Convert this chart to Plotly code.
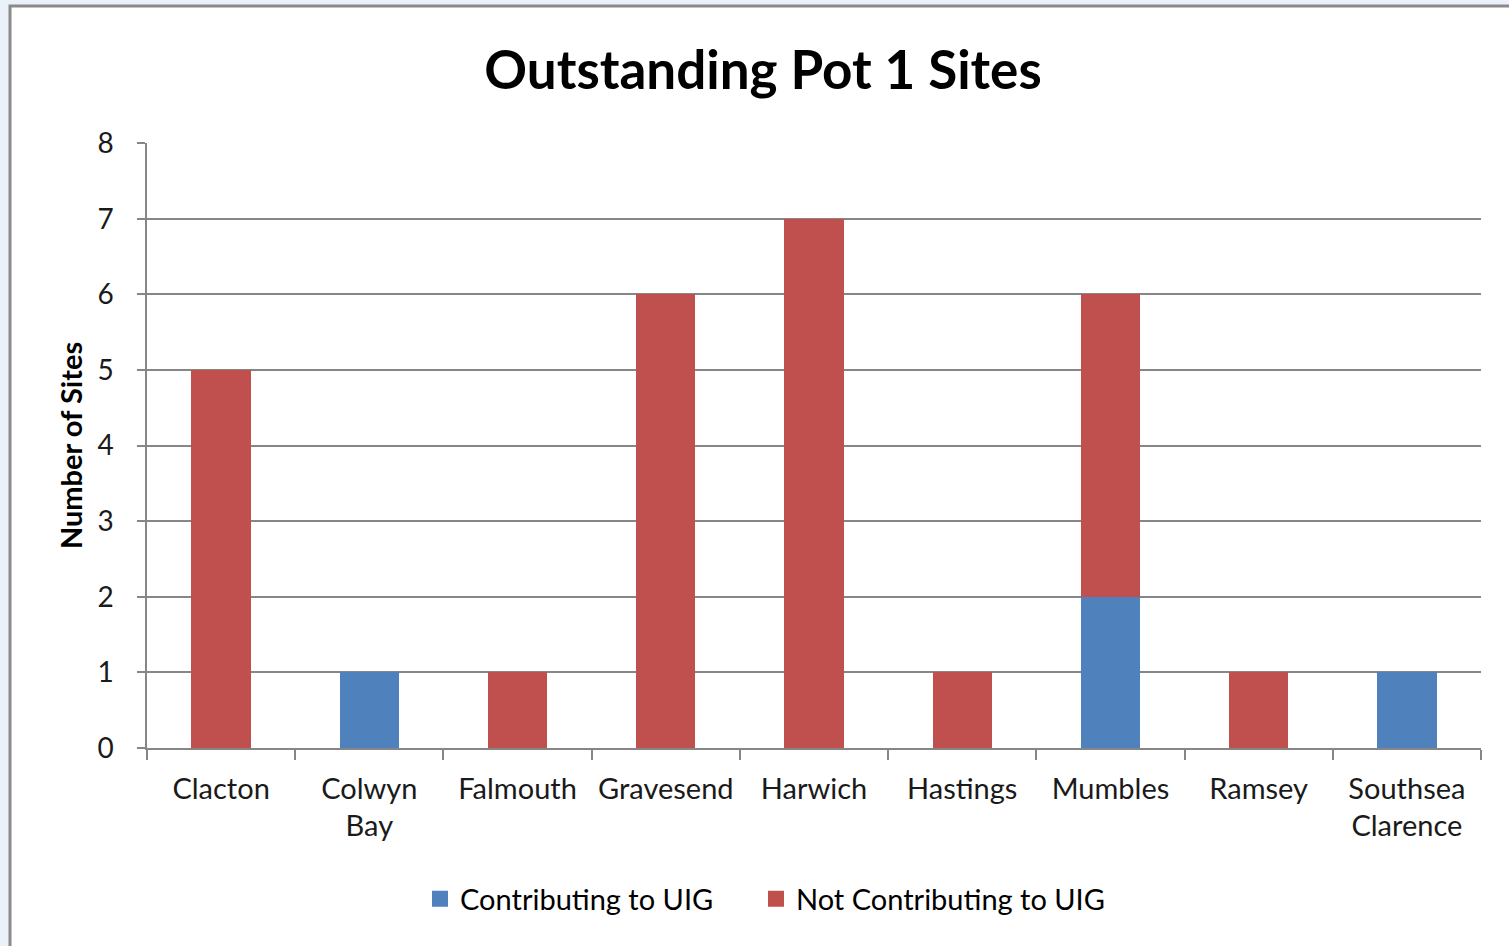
import plotly.graph_objects as go

categories = ["Clacton", "Colwyn<br>Bay", "Falmouth", "Gravesend", "Harwich",
              "Hastings", "Mumbles", "Ramsey", "Southsea<br>Clarence"]
contributing = [0, 1, 0, 0, 0, 0, 2, 0, 1]
not_contributing = [5, 0, 1, 6, 7, 1, 4, 1, 0]
series_names = ["Contributing to UIG", "Not Contributing to UIG"]
series_colors = ["#4F81BD", "#C0504D"]
y_ticks = [0, 1, 2, 3, 4, 5, 6, 7, 8]

FONT = "Lato"
W, H = 1509, 946
L, R, T, B = 147, 28, 143, 198

fig = go.Figure()
for vals, name, col in zip([contributing, not_contributing], series_names, series_colors):
    fig.add_trace(go.Bar(x=categories, y=vals, name=name, showlegend=False,
                         marker=dict(color=col, line=dict(width=0))))
# legend entries with larger square swatches, one legend box per series
for name, col, lg in zip(series_names, series_colors, ["legend", "legend2"]):
    fig.add_trace(go.Scatter(x=[None], y=[None], mode="markers", name=name, legend=lg,
                             marker=dict(symbol="square", size=17, color=col)))

pw = W - L - R
ph = H - T - B
def px_x(p):
    return (p - L) / pw
def px_y(p):
    return (H - B - p) / ph

# chart area frame (white panel with gray border, light blue outside)
fig.add_shape(type="rect", xref="paper", yref="paper",
              x0=px_x(10), x1=px_x(1520), y0=px_y(960), y1=px_y(6),
              fillcolor="white", line=dict(color="#8a8a8a", width=3), layer="below")

legend_common = dict(orientation="h", xanchor="left", y=px_y(899), yanchor="middle",
                     font=dict(family=FONT, size=29, color="black"),
                     itemwidth=30, bgcolor="rgba(0,0,0,0)")

fig.update_layout(
    width=W, height=H,
    margin=dict(l=L, r=R, t=T, b=B),
    paper_bgcolor="#eaf1f8",
    plot_bgcolor="rgba(0,0,0,0)",
    barmode="stack",
    bargap=0.6,
    title=dict(text="<b>Outstanding Pot 1 Sites</b>", x=763 / W, xanchor="center",
               y=1 - 70 / H, yanchor="middle",
               font=dict(family=FONT, size=53, color="black")),
    legend=dict(x=px_x(420), **legend_common),
    legend2=dict(x=px_x(756), **legend_common),
    font=dict(family=FONT, color="black"),
    showlegend=True,
)
fig.update_xaxes(
    showline=True, linecolor="#868686", linewidth=1.5,
    ticks="outside", tickson="boundaries", ticklen=10, tickcolor="#868686", tickwidth=1.5,
    tickfont=dict(family=FONT, size=29, color="#1a1a1a"),
    ticklabelstandoff=14,
    showgrid=False,
)
fig.update_yaxes(
    range=[0, 8.004], tickvals=y_ticks, showline=True, linecolor="#868686", linewidth=1.5,
    ticks="outside", ticklen=8, tickcolor="#868686", tickwidth=1.5,
    showgrid=True, gridcolor="#868686", gridwidth=1.5, zeroline=False,
    tickfont=dict(family=FONT, size=28, color="#1a1a1a"),
    ticklabelstandoff=18,
    title=dict(text="<b>Number of Sites</b>", font=dict(family=FONT, size=29, color="black"),
               standoff=6),
)
fig.write_html("out.html", config={"displayModeBar": False},
               post_script="document.body.style.margin='0';document.body.style.overflow='hidden';")
